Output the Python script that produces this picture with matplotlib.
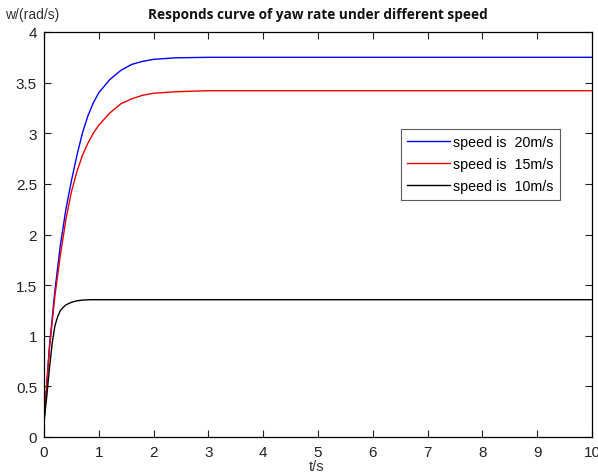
import matplotlib
matplotlib.use("Agg")
import matplotlib.pyplot as plt

t_blue = [0, 0.1, 0.2, 0.3, 0.4, 0.5, 0.6, 0.7, 0.8, 0.9, 1.0, 1.2, 1.4, 1.6, 1.8, 2.0, 2.4, 3.0, 4.0, 10.0]
v_blue = [0.15, 0.9, 1.45, 1.9, 2.25, 2.53, 2.78, 3.0, 3.17, 3.3, 3.4, 3.53, 3.62, 3.68, 3.71, 3.73, 3.745, 3.75, 3.75, 3.75]

t_red = [0, 0.1, 0.2, 0.3, 0.4, 0.5, 0.6, 0.7, 0.8, 0.9, 1.0, 1.2, 1.4, 1.6, 1.8, 2.0, 2.4, 3.0, 4.0, 10.0]
v_red = [0.15, 0.88, 1.4, 1.8, 2.15, 2.42, 2.62, 2.78, 2.9, 3.0, 3.08, 3.2, 3.29, 3.34, 3.375, 3.395, 3.41, 3.42, 3.42, 3.42]

t_black = [0, 0.05, 0.1, 0.15, 0.2, 0.25, 0.3, 0.35, 0.4, 0.5, 0.6, 0.7, 0.85, 10.0]
v_black = [0.15, 0.4, 0.68, 0.93, 1.1, 1.19, 1.25, 1.28, 1.305, 1.33, 1.345, 1.352, 1.356, 1.356]

labels = ["speed is  20m/s", "speed is  15m/s", "speed is  10m/s"]
xticks = list(range(0, 11))
yticks = [0, 0.5, 1, 1.5, 2, 2.5, 3, 3.5, 4]
yticklabels = ['0', '0.5', '1', '1.5', '2', '2.5', '3', '3.5', '4']

plt.rcParams['font.family'] = ['Liberation Sans', 'DejaVu Sans']
fig = plt.figure(figsize=(5.98, 4.77), dpi=100)
ax = fig.add_axes([44/598, 1-438/477, 548/598, 405/477])

ax.plot(t_blue, v_blue, color='#0000ff', lw=1.0, label=labels[0])
ax.plot(t_red, v_red, color='#ee0000', lw=1.0, label=labels[1])
ax.plot(t_black, v_black, color='black', lw=1.0, label=labels[2])

ax.set_xlim(0, 10)
ax.set_ylim(0, 4)
ax.set_xticks(xticks)
ax.set_yticks(yticks)
ax.set_xticklabels([str(x) for x in xticks])
ax.set_yticklabels(yticklabels)
ax.tick_params(direction='in', top=True, right=True, length=5, width=0.8,
               labelsize=11, colors='#222222')
ax.tick_params(axis='x', pad=6)
ax.tick_params(axis='y', pad=5)
for s in ax.spines.values():
    s.set_linewidth(0.9)
    s.set_color('black')

fig.text(318/598, 1-15/477, "Responds curve of yaw rate under different speed",
         ha='center', va='center', fontsize=9.8, fontweight='bold',
         family=['Open Sans', 'DejaVu Sans'], color='#111111')
fig.text(5/598, 1-15/477, "w/(rad/s)", ha='left', va='center', fontsize=10, color='#333333')
fig.text(317/598, 1-467/477, "t/s", ha='center', va='center', fontsize=10.5, color='#333333')

leg = ax.legend(loc='upper left', bbox_to_anchor=((401-44)/548, (438-130)/405),
                frameon=True, fancybox=False, edgecolor='#333333', fontsize=10.3,
                handlelength=3.0, handletextpad=0.2, borderpad=0.45, labelspacing=0.55,
                borderaxespad=0)
leg.get_frame().set_linewidth(0.8)

fig.savefig('out.png', dpi=100, facecolor='white')
